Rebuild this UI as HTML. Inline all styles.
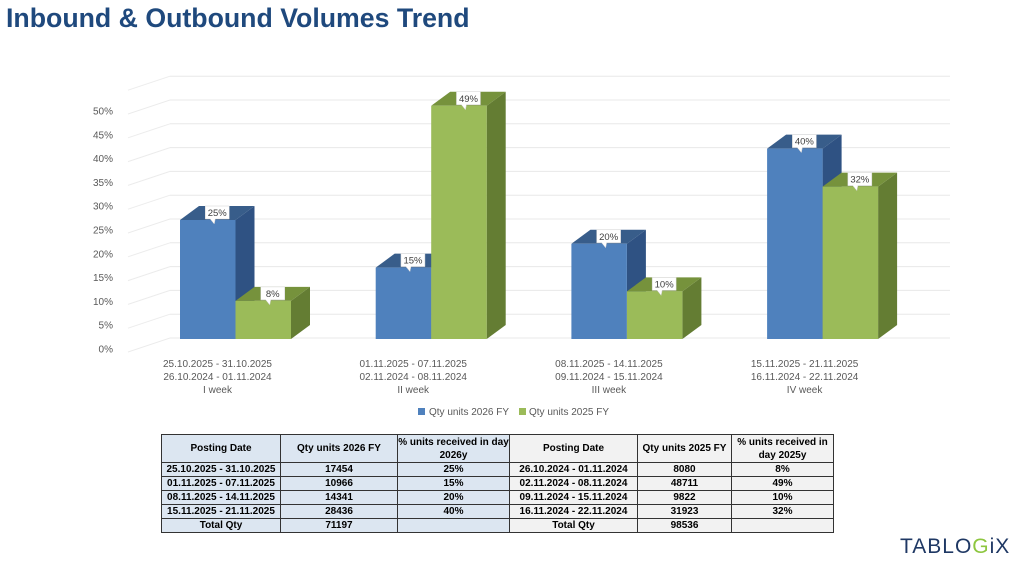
<!DOCTYPE html>
<html><head><meta charset="utf-8"><style>
body{margin:0;width:1024px;height:576px;background:#fff;overflow:hidden;font-family:"Liberation Sans",sans-serif;position:relative}
#title{position:absolute;left:6px;top:3px;font-size:26.7px;font-weight:bold;color:#1f497d;margin:0}
table{position:absolute;left:161px;top:434px;border-collapse:collapse;font-size:10px;font-weight:bold;color:#000}
td{border:1px solid #333;text-align:center;padding:0;height:13px;line-height:13px}
td.l{background:#dce6f1}td.r{background:#f2f2f2}
tr.h td{height:27px;line-height:13px}
#logo{position:absolute;left:900px;top:535px;font-size:21px;color:#1f3864;letter-spacing:1px}
</style></head><body>
<h1 id="title">Inbound &amp; Outbound Volumes Trend</h1>
<svg id="chart" width="1024" height="430" style="position:absolute;left:0;top:0"></svg>
<table>
<tr class="h"><td class="l" style="width:118px">Posting Date</td><td class="l" style="width:116px">Qty units 2026 FY</td><td class="l" style="width:111px">% units received in day 2026y</td><td class="r" style="width:127px">Posting Date</td><td class="r" style="width:93px">Qty units 2025 FY</td><td class="r" style="width:101px">% units received in day 2025y</td></tr>
<tr><td class="l">25.10.2025 - 31.10.2025</td><td class="l">17454</td><td class="l">25%</td><td class="r">26.10.2024 - 01.11.2024</td><td class="r">8080</td><td class="r">8%</td></tr>
<tr><td class="l">01.11.2025 - 07.11.2025</td><td class="l">10966</td><td class="l">15%</td><td class="r">02.11.2024 - 08.11.2024</td><td class="r">48711</td><td class="r">49%</td></tr>
<tr><td class="l">08.11.2025 - 14.11.2025</td><td class="l">14341</td><td class="l">20%</td><td class="r">09.11.2024 - 15.11.2024</td><td class="r">9822</td><td class="r">10%</td></tr>
<tr><td class="l">15.11.2025 - 21.11.2025</td><td class="l">28436</td><td class="l">40%</td><td class="r">16.11.2024 - 22.11.2024</td><td class="r">31923</td><td class="r">32%</td></tr>
<tr><td class="l">Total Qty</td><td class="l">71197</td><td class="l"></td><td class="r">Total Qty</td><td class="r">98536</td><td class="r"></td></tr>
</table>
<div id="logo">TABLO<span style="color:#8dc63f">G</span>iX</div>
<script>
const cats1=["25.10.2025 - 31.10.2025","01.11.2025 - 07.11.2025","08.11.2025 - 14.11.2025","15.11.2025 - 21.11.2025"];
const cats2=["26.10.2024 - 01.11.2024","02.11.2024 - 08.11.2024","09.11.2024 - 15.11.2024","16.11.2024 - 22.11.2024"];
const cats3=["I week","II week","III week","IV week"];
const s2026=[25,15,20,40];
const s2025=[8,49,10,32];
const ticks=[0,5,10,15,20,25,30,35,40,45,50];
const NS="http://www.w3.org/2000/svg";
const svg=document.getElementById('chart');
const base=339,k=4.76,dx=19,dy=-14,bw=55.5,x0=180,gap=195.7;
const y=v=>base-v*k;
function el(t,a,txt){const e=document.createElementNS(NS,t);for(const q in a)e.setAttribute(q,a[q]);if(txt!=null)e.textContent=txt;svg.appendChild(e);return e;}
for(let v=0;v<=55;v+=5){
 const g=el('line',{x1:170,y1:y(v)-1,x2:950,y2:y(v)-1,stroke:'#e8e8e8','stroke-width':1});
 
 const d=el('line',{x1:128,y1:y(v)+13,x2:170,y2:y(v)-1,stroke:'#ececec','stroke-width':1});
 
}
ticks.forEach(v=>{const t=el('text',{x:113,y:y(v)+13.5,'text-anchor':'end','font-size':10,fill:'#595959'},v+'%');
 });
function bar(x,v,front,top,side,name){
 const yt=y(v);
 const g=document.createElementNS(NS,'g');svg.appendChild(g);
 
 const p=(pts,f)=>{const e=document.createElementNS(NS,'polygon');e.setAttribute('points',pts);e.setAttribute('fill',f);g.appendChild(e);};
 p(`${x+bw},${base} ${x+bw+dx},${base+dy} ${x+bw+dx},${yt+dy} ${x+bw},${yt}`,side);
 p(`${x},${yt} ${x+dx},${yt+dy} ${x+bw+dx},${yt+dy} ${x+bw},${yt}`,top);
 p(`${x},${base} ${x},${yt} ${x+bw},${yt} ${x+bw},${base}`,front);
 const lx=x+bw/2+dx/2-12, ly=yt+dy/2-7;
 const lb=document.createElementNS(NS,'path');
 lb.setAttribute('d',`M${lx},${ly} h24 v13 h-14 l-1,5 l-4,-5 h-5 z`);
 lb.setAttribute('fill','#fff');lb.setAttribute('stroke','#d0d0d0');lb.setAttribute('stroke-width','0.5');g.appendChild(lb);
 const t=document.createElementNS(NS,'text');t.setAttribute('x',lx+12);t.setAttribute('y',ly+10);t.setAttribute('text-anchor','middle');t.setAttribute('font-size','9.5');t.setAttribute('fill','#404040');t.textContent=v+'%';
 g.appendChild(t);
}
for(let i=0;i<cats1.length;i++){
 const gx=x0+i*gap;
 bar(gx,s2026[i],'#4f81bd','#385d8a','#2f5283','bar-2026-'+(i+1));
 bar(gx+bw,s2025[i],'#9bbb59','#76923c','#647d33','bar-2025-'+(i+1));
 const cx=gx+bw;
 [cats1[i],cats2[i],cats3[i]].forEach((s,j)=>{const t=el('text',{x:cx-18,y:367+j*13,'text-anchor':'middle','font-size':10,fill:'#595959'},s);
  });
}
const l1=el('rect',{x:418,y:408,width:7,height:7,fill:'#4f81bd'});
const t1=el('text',{x:429,y:415,'font-size':10,fill:'#595959'},'Qty units 2026 FY');
const l2=el('rect',{x:519,y:408,width:7,height:7,fill:'#9bbb59'});
const t2=el('text',{x:529,y:415,'font-size':10,fill:'#595959'},'Qty units 2025 FY');
</script>
</body></html>
